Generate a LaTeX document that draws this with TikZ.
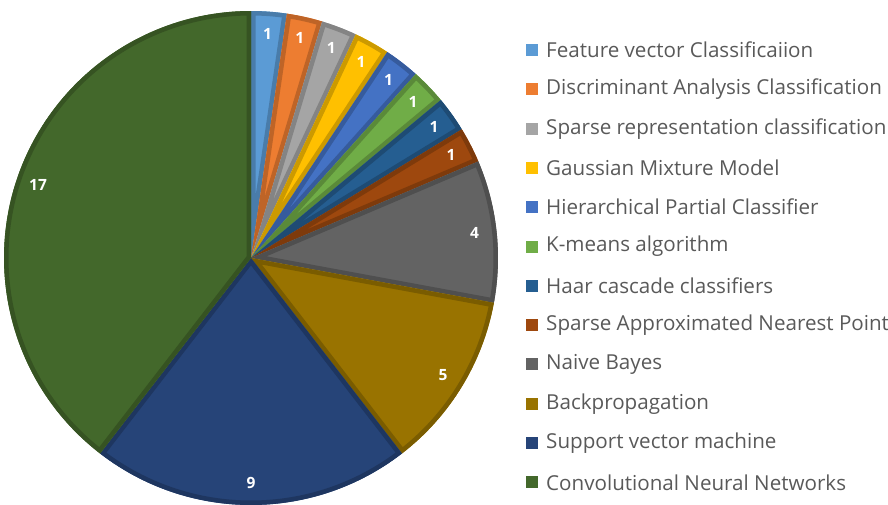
\documentclass[tikz,border=0pt]{standalone}
\usepackage{fontspec}
\setmainfont{Open Sans}
\usetikzlibrary{calc}
\definecolor{cA}{HTML}{5B9BD5}
\definecolor{cB}{HTML}{ED7D31}
\definecolor{cC}{HTML}{A5A5A5}
\definecolor{cD}{HTML}{FFC000}
\definecolor{cE}{HTML}{4472C4}
\definecolor{cF}{HTML}{70AD47}
\definecolor{cG}{HTML}{255E91}
\definecolor{cH}{HTML}{9E480E}
\definecolor{cI}{HTML}{636363}
\definecolor{cJ}{HTML}{997300}
\definecolor{cK}{HTML}{264478}
\definecolor{cL}{HTML}{43682B}
\definecolor{legtext}{HTML}{595959}
\tikzset{
  valuelabel/.style={text=white, font=\fontsize{15.5}{17}\selectfont\bfseries, inner sep=0pt},
  legsquare/.style={minimum size=12pt, inner sep=0pt, draw=none},
  legtextstyle/.style={anchor=west, text=legtext, font=\fontsize{20.6}{23}\selectfont, inner sep=0pt},
}
\begin{document}
\begin{tikzpicture}[x=1pt,y=-1pt]
\useasboundingbox (0,0) rectangle (888,504);
\coordinate (C) at (251,258);
\def\R{247}
\def\U{8.372093}
\foreach \s/\e/\c/\lab [count=\n] in {
  0/1/cA/1, 1/2/cB/1, 2/3/cC/1, 3/4/cD/1, 4/5/cE/1, 5/6/cF/1, 6/7/cG/1, 7/8/cH/1,
  8/12/cI/4, 12/17/cJ/5, 17/26/cK/9, 26/43/cL/17} {
  \pgfmathsetmacro{\aone}{-90+\s*\U}
  \pgfmathsetmacro{\atwo}{-90+\e*\U}
  \pgfmathsetmacro{\amid}{(\aone+\atwo)/2}
  \fill[\c] (C) -- ++(\aone:\R) arc[start angle=\aone, end angle=\atwo, radius=\R] -- cycle;
  \begin{scope}
    \clip (C) -- ++(\aone:\R) arc[start angle=\aone, end angle=\atwo, radius=\R] -- cycle;
    \draw[\c!80!black, line width=9pt, line join=miter] (C) -- ++(\aone:\R) arc[start angle=\aone, end angle=\atwo, radius=\R] -- cycle;
  \end{scope}
  \node[valuelabel] (v\n) at ($(C)+(\amid:225)$) {\lab};
}
\foreach \c/\t [count=\n] in {
  cA/Feature vector Classificaiion,
  cB/Discriminant Analysis Classification,
  cC/Sparse representation classification,
  cD/Gaussian Mixture Model,
  cE/Hierarchical Partial Classifier,
  cF/K-means algorithm,
  cG/Haar cascade classifiers,
  cH/Sparse Approximated Nearest Point,
  cI/Naive Bayes,
  cJ/Backpropagation,
  cK/Support vector machine,
  cL/Convolutional Neural Networks} {
  \pgfmathsetmacro{\yy}{50+39.3*(\n-1)}
  \node[legsquare, fill=\c] (s\n) at (532,\yy) {};
  \node[legtextstyle] (t\n) at (546,\yy) {\t};
}
\end{tikzpicture}
\end{document}
